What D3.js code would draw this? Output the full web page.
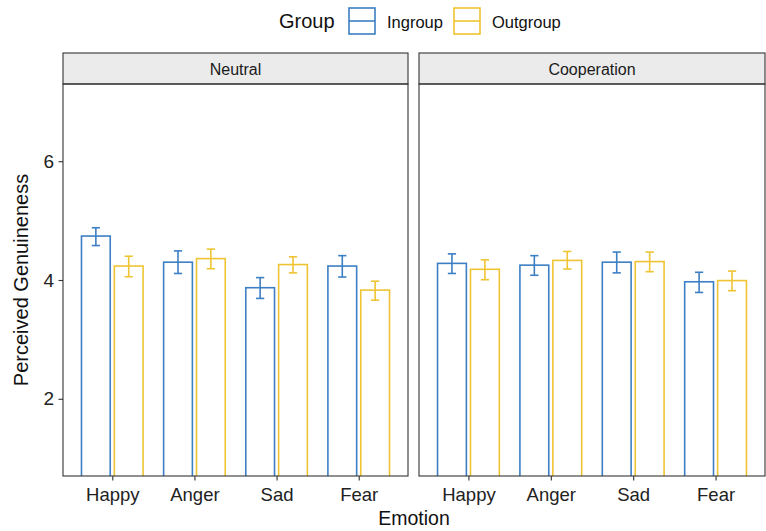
<!DOCTYPE html>
<html lang="en">
<head>
  <meta charset="UTF-8">
  <title>Perceived Genuineness by Emotion</title>
  <script src="https://d3js.org/d3.v7.min.js"></script>
  <style>
    body { margin: 0; background: white; }
    text { font-family: "Liberation Sans", Arial, sans-serif; }
  </style>
</head>
<body>
  <div id="chart"></div>
  <script>
    // data
    const emotions = ["Happy", "Anger", "Sad", "Fear"];
    const groups = ["Ingroup", "Outgroup"];
    const conditions = ["Neutral", "Cooperation"];
    const yTicks = [2, 4, 6];

    // means, order: emotions, per group
    const neutralIngroup = [4.74, 4.30, 3.87, 4.235];
    const neutralOutgroup = [4.235, 4.36, 4.26, 3.83];
    const coopIngroup = [4.28, 4.25, 4.30, 3.97];
    const coopOutgroup = [4.18, 4.33, 4.31, 3.99];

    // error bar low / high
    const neutralIngroupLo = [4.58, 4.11, 3.69, 4.05];
    const neutralIngroupHi = [4.88, 4.49, 4.04, 4.41];
    const neutralOutgroupLo = [4.055, 4.19, 4.12, 3.66];
    const neutralOutgroupHi = [4.40, 4.52, 4.39, 3.98];
    const coopIngroupLo = [4.11, 4.08, 4.12, 3.79];
    const coopIngroupHi = [4.44, 4.41, 4.47, 4.13];
    const coopOutgroupLo = [4.005, 4.185, 4.14, 3.82];
    const coopOutgroupHi = [4.34, 4.48, 4.47, 4.15];

    const colors = { Ingroup: "#3d7fc4", Outgroup: "#efc433" };

    const rows = [];
    function addRows(cond, group, means, lo, hi) {
      emotions.forEach((e, i) => rows.push({ cond, group, emotion: e, mean: means[i], lo: lo[i], hi: hi[i] }));
    }
    addRows("Neutral", "Ingroup", neutralIngroup, neutralIngroupLo, neutralIngroupHi);
    addRows("Neutral", "Outgroup", neutralOutgroup, neutralOutgroupLo, neutralOutgroupHi);
    addRows("Cooperation", "Ingroup", coopIngroup, coopIngroupLo, coopIngroupHi);
    addRows("Cooperation", "Outgroup", coopOutgroup, coopOutgroupLo, coopOutgroupHi);

    const W = 766, H = 531;
    const svg = d3.select("#chart").append("svg").attr("width", W).attr("height", H);

    const panelTop = 84, panelBottom = 476, stripTop = 53;
    const panelX = { Neutral: [63, 408], Cooperation: [419, 765] };

    // coord limits 1..7 with 5% expansion
    const y = d3.scaleLinear().domain([0.7, 7.3]).range([panelBottom, panelTop]);

    const dodge = 0.8, barW = 0.35;

    conditions.forEach(cond => {
      const [x0, x1] = panelX[cond];
      const x = d3.scaleLinear().domain([0.4, 4.6]).range([x0, x1]);
      const g = svg.append("g");

      // strip
      g.append("rect").attr("x", x0).attr("y", stripTop).attr("width", x1 - x0).attr("height", panelTop - stripTop)
        .attr("fill", "#ebebeb").attr("stroke", "#333").attr("stroke-width", 1.1);
      g.append("text").attr("x", (x0 + x1) / 2).attr("y", 75)
        .attr("text-anchor", "middle").attr("font-size", 16).attr("fill", "#1a1a1a").text(cond);

      const clipId = "clip-" + cond;
      svg.append("clipPath").attr("id", clipId).append("rect")
        .attr("x", x0).attr("y", panelTop).attr("width", x1 - x0).attr("height", panelBottom - panelTop);

      const marks = g.append("g").attr("clip-path", `url(#${clipId})`);
      const data = rows.filter(r => r.cond === cond);
      const cx = d => x(emotions.indexOf(d.emotion) + 1 + (d.group === "Ingroup" ? -dodge / 4 : dodge / 4));

      marks.selectAll("rect.bar").data(data).enter().append("rect")
        .attr("class", "bar")
        .attr("x", d => x(0) + cx(d) - x(barW / 2))
        .attr("width", x(barW) - x(0))
        .attr("y", d => y(d.mean))
        .attr("height", d => y(0) - y(d.mean))
        .attr("fill", "white")
        .attr("stroke", d => colors[d.group])
        .attr("stroke-width", 1.6);

      const capHalf = (x(0.1) - x(0)) / 2;
      const eb = marks.selectAll("g.err").data(data).enter().append("g")
        .attr("stroke", d => colors[d.group]).attr("stroke-width", 1.6);
      eb.append("line").attr("x1", cx).attr("x2", cx).attr("y1", d => y(d.lo)).attr("y2", d => y(d.hi));
      eb.append("line").attr("x1", d => cx(d) - capHalf).attr("x2", d => cx(d) + capHalf)
        .attr("y1", d => y(d.lo)).attr("y2", d => y(d.lo));
      eb.append("line").attr("x1", d => cx(d) - capHalf).attr("x2", d => cx(d) + capHalf)
        .attr("y1", d => y(d.hi)).attr("y2", d => y(d.hi));

      // panel border
      g.append("rect").attr("x", x0).attr("y", panelTop).attr("width", x1 - x0).attr("height", panelBottom - panelTop)
        .attr("fill", "none").attr("stroke", "#333").attr("stroke-width", 1.1);

      // x axis
      const xAxis = g.append("g").attr("transform", `translate(0,${panelBottom})`)
        .call(d3.axisBottom(x).tickValues([1, 2, 3, 4]).tickFormat(i => emotions[i - 1]).tickSize(4.5).tickSizeOuter(0));
      xAxis.select(".domain").remove();
      xAxis.selectAll("line").attr("stroke", "#333").attr("stroke-width", 1.1);
      xAxis.selectAll("text").attr("font-size", 18.5).attr("fill", "#222").attr("y", 25).attr("dy", null);

      if (cond === "Neutral") {
        const yAxis = g.append("g").attr("transform", `translate(${x0},0)`)
          .call(d3.axisLeft(y).tickValues(yTicks).tickFormat(d3.format("d")).tickSize(4.5).tickSizeOuter(0));
        yAxis.select(".domain").remove();
        yAxis.selectAll("line").attr("stroke", "#333").attr("stroke-width", 1.1);
        yAxis.selectAll("text").attr("font-size", 19).attr("fill", "#222").attr("x", -9);
      }
    });

    // axis titles
    svg.append("text").attr("x", 414).attr("y", 525).attr("text-anchor", "middle")
      .attr("font-size", 19.5).attr("fill", "#111").text("Emotion");
    svg.append("text").attr("transform", `translate(28,${(panelTop + panelBottom) / 2}) rotate(-90)`)
      .attr("text-anchor", "middle").attr("font-size", 20).attr("fill", "#111").text("Perceived Genuineness");

    // legend
    const legend = svg.append("g");
    legend.append("text").attr("x", 279).attr("y", 28).attr("font-size", 20).attr("fill", "#111").text("Group");
    const keyX = [348, 453];
    groups.forEach((grp, i) => {
      const k = legend.append("g").attr("transform", `translate(${keyX[i]},7)`);
      k.append("rect").attr("x", 1).attr("y", 1).attr("width", 26).attr("height", 26)
        .attr("fill", "white").attr("stroke", colors[grp]).attr("stroke-width", 1.6);
      k.append("line").attr("x1", 1).attr("x2", 27).attr("y1", 14).attr("y2", 14)
        .attr("stroke", colors[grp]).attr("stroke-width", 1.6);
      legend.append("text").attr("x", keyX[i] + 39).attr("y", 28).attr("font-size", 16.5).attr("fill", "#111").text(grp);
    });
  </script>
</body>
</html>
